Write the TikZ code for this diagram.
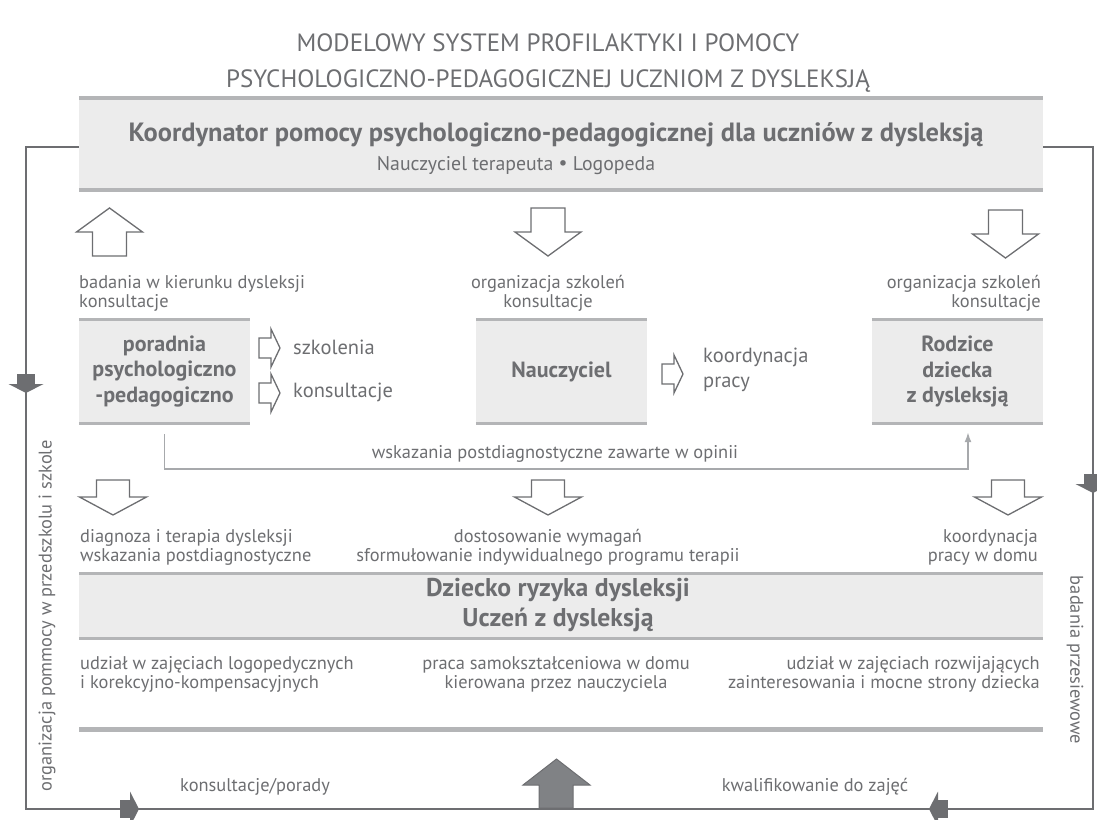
\documentclass[tikz,border=0pt]{standalone}
\usepackage{fontspec}
\setmainfont{PT Sans}
\usetikzlibrary{arrows.meta}
\definecolor{txt}{HTML}{6D6E71}
\definecolor{boxfill}{HTML}{ECECEC}
\definecolor{bordc}{HTML}{B4B5B7}
\definecolor{linec}{HTML}{6D6E71}
\definecolor{connc}{HTML}{A7A9AC}
\definecolor{arrfill}{HTML}{808285}
\begin{document}
\begin{tikzpicture}[x=1pt,y=-1pt,
  every node/.style={text=txt,font=\fontsize{18.4}{19.5}\selectfont,inner sep=0pt},
  sidetext/.style={font=\fontsize{20.5}{25}\selectfont},
  titletext/.style={font=\fontsize{25}{36}\selectfont,align=center},
  boldtext/.style={font=\bfseries\fontsize{22}{25.5}\selectfont,align=center},
  bigbold/.style={font=\bfseries\fontsize{25.7}{30}\selectfont,align=center},
  graybox/.style={fill=boxfill,draw=none},
  bordr/.style={draw=bordc,line width=3.5pt},
  frame/.style={draw=linec,line width=1.6pt},
  hollow/.style={draw=linec,line width=1.3pt,fill=white,line join=miter},
  solidarr/.style={fill=linec,draw=none},
  conn/.style={draw=connc,line width=1.6pt},
  hdown/.pic={\path[hollow] (-17,0) -- (17,0) -- (17,24) -- (33,24) -- (0,48) -- (-33,24) -- (-17,24) -- cycle;},
  hup/.pic={\path[hollow] (-17,0) -- (17,0) -- (17,-24) -- (33,-24) -- (0,-48) -- (-33,-24) -- (-17,-24) -- cycle;},
  hdownsm/.pic={\path[hollow] (-16.5,0) -- (16.5,0) -- (16.5,17) -- (33.5,17) -- (0,35) -- (-33.5,17) -- (-16.5,17) -- cycle;},
  hright/.pic={\path[hollow] (0,-10) -- (12,-10) -- (12,-19) -- (21,0) -- (12,19) -- (12,10) -- (0,10) -- cycle;},
  fdown/.pic={\path[solidarr] (-9,-10) rectangle (9,0); \path[solidarr] (-17.5,0) -- (17.5,0) -- (0,9) -- cycle;}
]
\useasboundingbox (0,0) rectangle (1097,819);

% title
\node[titletext] (title) at (548,63) {MODELOWY SYSTEM PROFILAKTYKI I POMOCY\\PSYCHOLOGICZNO-PEDAGOGICZNEJ UCZNIOM Z DYSLEKSJĄ};

% top box
\node[graybox,minimum width=964pt,minimum height=92pt] (koord) at (561,144) {};
\draw[bordr] (koord.north west) -- (koord.north east);
\draw[bordr] (koord.south west) -- (koord.south east);
\node[boldtext,font=\bfseries\fontsize{26.4}{30}\selectfont] (koordt) at (556,135) {Koordynator pomocy psychologiczno-pedagogicznej dla uczniów z dysleksją};
\node[font=\fontsize{19.8}{22}\selectfont] (koords) at (516,166) {Nauczyciel terapeuta \raisebox{1pt}{\textbullet} Logopeda};

% outer frame
\coordinate (fltop) at (26,147);
\coordinate (flbot) at (26,809);
\coordinate (frtop) at (1093,147);
\coordinate (frbot) at (1093,809);
\coordinate (fbot) at (556,809);
\draw[frame] (koord.west |- fltop) -- (fltop) -- (flbot) -- (fbot);
\draw[frame] (koord.east |- frtop) -- (frtop) -- (frbot) -- (fbot);
\pic at (26,384) {fdown};
\pic at (1093,484) {fdown};
\pic[rotate=90] at (130,809) {fdown};
\pic[rotate=-90] at (938,809) {fdown};

% big up arrow
\path[fill=arrfill,draw=linec,line width=1pt] (539,808) -- (573,808) -- (573,785) -- (590,785) -- (556.5,759) -- (523,785) -- (539,785) -- cycle;

% first row hollow arrows
\pic at (109.5,256) {hup};
\pic at (548,208) {hdown};
\pic at (1005.5,210) {hdown};

\node[align=left,anchor=north west] (t1l) at (79,275) {badania w kierunku dysleksji\\konsultacje};
\node[align=center,anchor=north] (t1c) at (548,275) {organizacja szkoleń\\konsultacje};
\node[align=right,anchor=north east] (t1r) at (1041,275) {organizacja szkoleń\\konsultacje};

% middle boxes
\node[graybox,minimum width=171pt,minimum height=103pt] (poradnia) at (164.5,371.5) {};
\node[graybox,minimum width=171pt,minimum height=103pt] (naucz) at (561.5,371.5) {};
\node[graybox,minimum width=171pt,minimum height=103pt] (rodzice) at (957.5,371.5) {};
\foreach \b in {poradnia,naucz,rodzice}{
  \draw[bordr,line width=3pt] (\b.north west) -- (\b.north east);
  \draw[bordr,line width=3pt] (\b.south west) -- (\b.south east);
}
\node[boldtext] (poradniat) at (poradnia.center) {poradnia\\psychologiczno\\-pedagogiczno};
\node[boldtext] (nauczt) at (naucz.center) {Nauczyciel};
\node[boldtext] (rodzicet) at (rodzice.center) {Rodzice\\dziecka\\z dysleksją};

\pic at (259,348) {hright};
\pic at (259,393) {hright};
\pic at (662,374) {hright};
\node[sidetext,anchor=west] (szk) at (293,347) {szkolenia};
\node[sidetext,anchor=west] (kons) at (293,392) {konsultacje};
\node[sidetext,align=left,anchor=west] (koordp) at (703,370) {koordynacja\\pracy};

% connector
\draw[conn,-{Latex[length=10pt,width=7pt]}] ([yshift=-11pt]poradnia.south) -- ++(0,35) -| ([xshift=10.5pt,yshift=-9pt]rodzice.south);
\node (wsk) at (555,454) {wskazania postdiagnostyczne zawarte w opinii};

% second row arrows
\pic at (113,480) {hdownsm};
\pic at (548,480) {hdownsm};
\pic at (1008,480) {hdownsm};
\node[align=left,anchor=north west] (t2l) at (80,529) {diagnoza i terapia dysleksji\\wskazania postdiagnostyczne};
\node[align=center,anchor=north] (t2c) at (548,529) {dostosowanie wymagań\\sformułowanie indywidualnego programu terapii};
\node[align=right,anchor=north east] (t2r) at (1038,529) {koordynacja\\pracy w domu};

% child box
\node[graybox,minimum width=964pt,minimum height=64pt] (dziecko) at (561,606) {};
\draw[bordr,line width=3pt] (dziecko.north west) -- (dziecko.north east);
\draw[bordr,line width=3pt] (dziecko.south west) -- (dziecko.south east);
\node[bigbold] (dzieckot) at (558,605) {Dziecko ryzyka dysleksji\\Uczeń z dysleksją};

\node[align=left,anchor=north west] (t3l) at (80,656) {udział w zajęciach logopedycznych\\i korekcyjno-kompensacyjnych};
\node[align=center,anchor=north] (t3c) at (556,656) {praca samokształceniowa w domu\\kierowana przez nauczyciela};
\node[align=right,anchor=north east] (t3r) at (1040,656) {udział w zajęciach rozwijających\\zainteresowania i mocne strony dziecka};

\coordinate (bl) at (79,729);
\coordinate (br) at (1043,729);
\draw[bordr,line width=5pt] (bl) -- (br);

\node (konsp) at (255,787) {konsultacje/porady};
\node (kwal) at (815,787) {kwalifikowanie do zajęć};

\node[rotate=90] (orgp) at (47,616) {organizacja pommocy w przedszkolu i szkole};
\node[rotate=-90] (badp) at (1075,660) {badania przesiewowe};
\end{tikzpicture}
\end{document}
